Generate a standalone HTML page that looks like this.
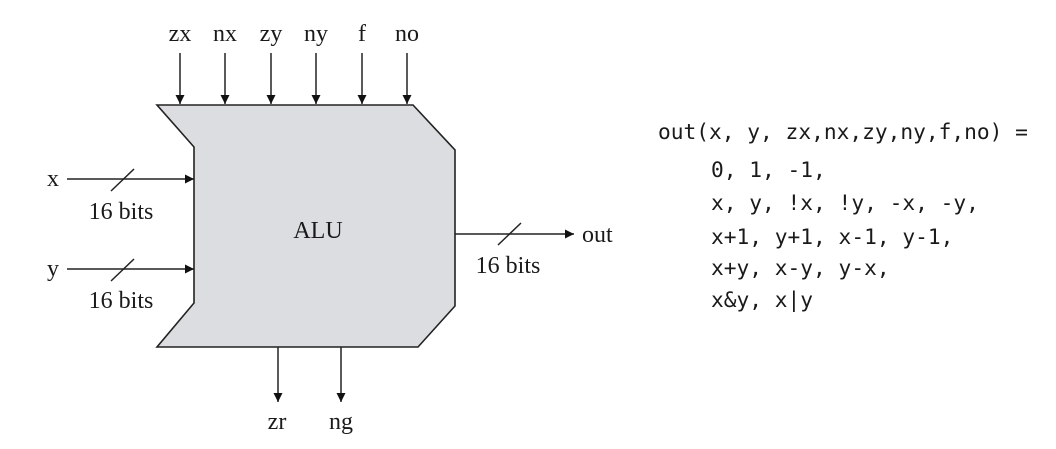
<!DOCTYPE html>
<html><head><meta charset="utf-8"><style>
html,body{margin:0;padding:0;background:#fff;width:1056px;height:449px;overflow:hidden}
svg{display:block}
.t{font-family:"Liberation Serif",serif;font-size:24px;fill:#1a1a1a}
.m{font-family:"DejaVu Sans Mono","Liberation Mono",monospace;font-size:21.2px;fill:#1a1a1a}
</style></head><body>
<svg width="1056" height="449" viewBox="0 0 1056 449">
<defs><marker id="ah" viewBox="0 0 10 10" refX="10" refY="5" markerWidth="9" markerHeight="9" markerUnits="userSpaceOnUse" orient="auto"><path d="M0,0 L10,5 L0,10z" fill="#111"/></marker></defs>
<polygon points="157,105 413,105 455,150 455,306 418,347 157,347 194,303 194,147" fill="#dcdde0" stroke="#222" stroke-width="1.6"/>
<text class="t" x="318" y="238" text-anchor="middle">ALU</text>
<g stroke="#222" stroke-width="1.5" fill="none">
<line x1="180" y1="53" x2="180" y2="104" marker-end="url(#ah)"/>
<line x1="225" y1="53" x2="225" y2="104" marker-end="url(#ah)"/>
<line x1="271" y1="53" x2="271" y2="104" marker-end="url(#ah)"/>
<line x1="316" y1="53" x2="316" y2="104" marker-end="url(#ah)"/>
<line x1="362" y1="53" x2="362" y2="104" marker-end="url(#ah)"/>
<line x1="407" y1="53" x2="407" y2="104" marker-end="url(#ah)"/>
</g>
<g class="t" text-anchor="middle">
<text x="180" y="41">zx</text>
<text x="225" y="41">nx</text>
<text x="271" y="41">zy</text>
<text x="316" y="41">ny</text>
<text x="362" y="41">f</text>
<text x="407" y="41">no</text>
</g>
<g stroke="#222" stroke-width="1.5" fill="none">
<line x1="67" y1="179" x2="194" y2="179" marker-end="url(#ah)"/>
<line x1="111" y1="191" x2="134" y2="169"/>
<line x1="67" y1="269" x2="194" y2="269" marker-end="url(#ah)"/>
<line x1="111" y1="281" x2="134" y2="259"/>
<line x1="455" y1="234" x2="574" y2="234" marker-end="url(#ah)"/>
<line x1="498" y1="245" x2="521" y2="223"/>
<line x1="278" y1="347" x2="278" y2="402" marker-end="url(#ah)"/>
<line x1="341" y1="347" x2="341" y2="402" marker-end="url(#ah)"/>
</g>
<text class="t" x="47" y="186">x</text>
<text class="t" x="121" y="219" text-anchor="middle">16 bits</text>
<text class="t" x="47" y="276">y</text>
<text class="t" x="121" y="308" text-anchor="middle">16 bits</text>
<text class="t" x="582" y="242">out</text>
<text class="t" x="508" y="273" text-anchor="middle">16 bits</text>
<text class="t" x="277" y="429" text-anchor="middle">zr</text>
<text class="t" x="341" y="429" text-anchor="middle">ng</text>
<g class="m" xml:space="preserve">
<text x="658" y="139">out(x, y, zx,nx,zy,ny,f,no) =</text>
<text x="711" y="177">0, 1, -1,</text>
<text x="711" y="210">x, y, !x, !y, -x, -y,</text>
<text x="711" y="244">x+1, y+1, x-1, y-1,</text>
<text x="711" y="275">x+y, x-y, y-x,</text>
<text x="711" y="307">x&amp;y, x|y</text>
</g>
</svg>
</body></html>
